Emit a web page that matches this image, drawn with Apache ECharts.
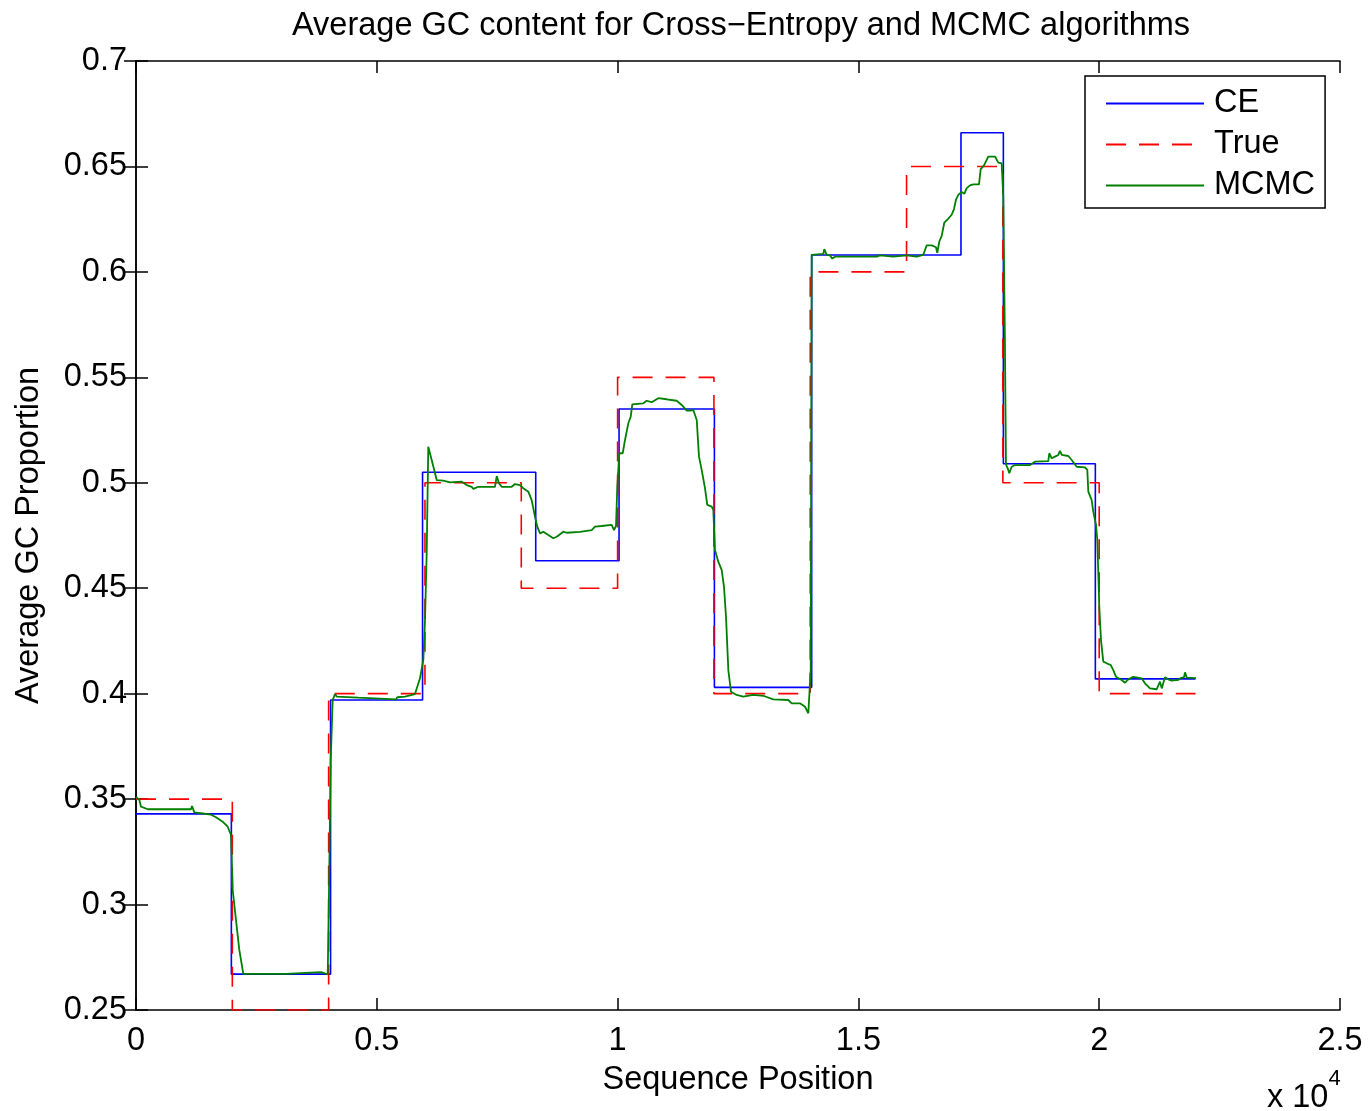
<!DOCTYPE html>
<html>
<head>
<meta charset="utf-8">
<script src="https://cdn.jsdelivr.net/npm/echarts@6/dist/echarts.min.js"></script>
<style>
  html, body { margin: 0; padding: 0; background: #fff; }
  #chart { width: 1369px; height: 1111px; }
</style>
</head>
<body>
<div id="chart"></div>
<script>
// True GC levels (piecewise constant)
var trueEdges = [0, 2000, 4000, 6000, 8000, 10000, 12000, 14000, 16000, 18000, 20000, 22000];
var trueLevels = [0.35, 0.25, 0.40, 0.50, 0.45, 0.55, 0.40, 0.60, 0.65, 0.50, 0.40];

// Cross-Entropy estimate
var ceEdges = [0, 1980, 4040, 5950, 8300, 10030, 12010, 14030, 17130, 18010, 19920, 22000];
var ceLevels = [0.343, 0.267, 0.397, 0.505, 0.463, 0.535, 0.403, 0.608, 0.666, 0.509, 0.407];

// MCMC estimate
var mcmcPos = [0, 69, 104, 243, 1142, 1163, 1211, 1350, 1557, 1661, 1800, 1904, 1973, 2008, 2076, 2145, 2228,
  3115, 3150, 3841, 3877, 3981, 4007, 4043, 4084, 4132, 4167, 4616, 4637, 5399, 5426, 5586, 5621, 5793, 5841,
  5897, 5966, 6001, 6036, 6069, 6140, 6173, 6244, 6381, 6520, 6763, 6867, 6970, 7004, 7108, 7454, 7490, 7537,
  7593, 7801, 7870, 7974, 8042, 8146, 8216, 8285, 8333, 8389, 8457, 8561, 8665, 8736, 8873, 8943, 9219, 9462,
  9531, 9670, 9703, 9877, 9925, 9967, 9994, 10035, 10106, 10154, 10222, 10272, 10305, 10534, 10604, 10708,
  10845, 11019, 11227, 11331, 11435, 11503, 11572, 11643, 11690, 11746, 11815, 11862, 11954, 11987, 12022,
  12091, 12162, 12209, 12251, 12299, 12355, 12473, 12610, 12818, 13025, 13233, 13545, 13615, 13787, 13891,
  13960, 13995, 14010, 14030, 14271, 14292, 14342, 14410, 14458, 14514, 15380, 15449, 15725, 16003, 16211,
  16348, 16418, 16522, 16611, 16638, 16680, 16730, 16784, 16867, 16937, 16985, 17027, 17074, 17145, 17199,
  17249, 17317, 17386, 17504, 17539, 17608, 17697, 17836, 17905, 17975, 18009, 18044, 18064, 18112, 18133,
  18183, 18251, 18563, 18667, 18943, 18964, 19014, 19082, 19151, 19186, 19221, 19358, 19429, 19533, 19705,
  19753, 19774, 19844, 19877, 19934, 19961, 20002, 20037, 20085, 20156, 20239, 20293, 20349, 20467, 20536,
  20604, 20708, 20882, 20951, 21055, 21194, 21262, 21298, 21366, 21435, 21505, 21642, 21692, 21761, 21782,
  21817, 22010];
var mcmcGC = [0.3511, 0.3496, 0.3464, 0.3452, 0.3452, 0.3467, 0.3437, 0.3433, 0.3426, 0.3414, 0.3393, 0.3369,
  0.3330, 0.3069, 0.2927, 0.2785, 0.2671, 0.2671, 0.2680, 0.2680, 0.2671, 0.2669, 0.3055, 0.3685, 0.3970,
  0.3998, 0.3986, 0.3981, 0.3973, 0.3973, 0.3983, 0.3986, 0.3995, 0.3998, 0.4033, 0.4073, 0.4160, 0.4349,
  0.4667, 0.5171, 0.5108, 0.5100, 0.5013, 0.5010, 0.5002, 0.5005, 0.4989, 0.4981, 0.4971, 0.4981, 0.4981,
  0.5032, 0.4998, 0.4981, 0.4981, 0.4994, 0.4989, 0.4974, 0.4958, 0.4918, 0.4839, 0.4792, 0.4760, 0.4768,
  0.4752, 0.4737, 0.4744, 0.4768, 0.4763, 0.4767, 0.4776, 0.4792, 0.4795, 0.4800, 0.4800, 0.4776, 0.4795,
  0.4981, 0.5140, 0.5140, 0.5203, 0.5282, 0.5313, 0.5372, 0.5377, 0.5389, 0.5382, 0.5401, 0.5396, 0.5389,
  0.5369, 0.5342, 0.5342, 0.5345, 0.5298, 0.5124, 0.5061, 0.4974, 0.4895, 0.4887, 0.4871, 0.4681, 0.4626,
  0.4586, 0.4507, 0.4365, 0.4112, 0.4009, 0.3994, 0.3986, 0.3994, 0.3990, 0.3973, 0.3970, 0.3954, 0.3954,
  0.3938, 0.3907, 0.3907, 0.4112, 0.6081, 0.6085, 0.6108, 0.6081, 0.6078, 0.6063, 0.6072, 0.6072, 0.6078,
  0.6072, 0.6078, 0.6072, 0.6081, 0.6126, 0.6126, 0.6117, 0.6090, 0.6144, 0.6171, 0.6234, 0.6253, 0.6271,
  0.6298, 0.6343, 0.6365, 0.6379, 0.6370, 0.6397, 0.6410, 0.6415, 0.6415, 0.6487, 0.6505, 0.6547, 0.6547,
  0.6518, 0.6514, 0.6352, 0.5630, 0.5087, 0.5061, 0.5045, 0.5076, 0.5084, 0.5084, 0.5100, 0.5103, 0.5140,
  0.5116, 0.5124, 0.5132, 0.5152, 0.5132, 0.5127, 0.5108, 0.5076, 0.5073, 0.5061, 0.4958, 0.4918, 0.4863,
  0.4800, 0.4729, 0.4412, 0.4254, 0.4152, 0.4144, 0.4136, 0.4112, 0.4080, 0.4065, 0.4052, 0.4068, 0.4080,
  0.4073, 0.4049, 0.4025, 0.4021, 0.4057, 0.4025, 0.4078, 0.4068, 0.4062, 0.4065, 0.4074, 0.4078, 0.4101,
  0.4076, 0.4074];

// step data: each level starts at its edge, last point closes the segment
function stepData(edges, levels) {
  var out = [];
  levels.forEach(function (v, i) { out.push([edges[i], v]); });
  out.push([edges[edges.length - 1], levels[levels.length - 1]]);
  return out;
}
var mcmcData = mcmcPos.map(function (x, i) { return [x, mcmcGC[i]]; });

var font = "'Liberation Sans', Arial, Helvetica, sans-serif";
var fs = 32.5;

var chart = echarts.init(document.getElementById('chart'));
var frameAxis = {
  axisLine: { show: true, lineStyle: { color: '#000', width: 1.5 } },
  axisTick: { show: true, inside: true, length: 12, lineStyle: { color: '#000', width: 1.5 } },
  splitLine: { show: false }
};

chart.setOption({
  backgroundColor: '#fff',
  animation: false,
  title: {
    text: 'Average GC content for Cross\u2212Entropy and MCMC algorithms',
    left: 287, top: 5,
    textStyle: { fontFamily: font, fontSize: fs, fontWeight: 'normal', color: '#000' }
  },
  grid: { left: 136, right: 29, top: 61, bottom: 101 },
  legend: {
    data: ['CE', 'True', 'MCMC'],
    orient: 'vertical',
    left: 1085, top: 76,
    padding: [11, 10, 6, 20],
    itemWidth: 98, itemHeight: 14, itemGap: 8,
    backgroundColor: '#fff',
    borderColor: '#000', borderWidth: 1.5, borderRadius: 0,
    itemStyle: { opacity: 0 },
    textStyle: { fontFamily: font, fontSize: fs, color: '#000', padding: [0, 0, 0, 5] }
  },
  xAxis: [
    Object.assign({
      type: 'value', min: 0, max: 25000, interval: 5000, position: 'bottom',
      name: 'Sequence Position', nameLocation: 'middle', nameGap: 54,
      nameTextStyle: { fontFamily: font, fontSize: fs, color: '#000' },
      axisLabel: {
        fontFamily: font, fontSize: fs, color: '#000', margin: 15,
        formatter: function (v) { return String(parseFloat((v / 10000).toFixed(2))); }
      }
    }, frameAxis),
    Object.assign({
      type: 'value', min: 0, max: 25000, interval: 5000, position: 'top',
      axisLabel: { show: false }
    }, frameAxis)
  ],
  yAxis: [
    Object.assign({
      type: 'value', min: 0.25, max: 0.7, interval: 0.05, position: 'left',
      name: 'Average GC Proportion', nameLocation: 'middle', nameGap: 90,
      nameTextStyle: { fontFamily: font, fontSize: fs, color: '#000' },
      axisLabel: {
        fontFamily: font, fontSize: fs, color: '#000', margin: 9,
        formatter: function (v) { return String(parseFloat(v.toFixed(2))); }
      }
    }, frameAxis),
    Object.assign({
      type: 'value', min: 0.25, max: 0.7, interval: 0.05, position: 'right',
      axisLabel: { show: false }
    }, frameAxis)
  ],
  graphic: [{
    type: 'text', left: 1267, top: 1068,
    style: {
      text: '{n|x 10}{s|4}',
      rich: {
        n: { fontFamily: font, fontSize: fs, fill: '#000', verticalAlign: 'bottom', padding: [14, 0, 0, 0] },
        s: { fontFamily: font, fontSize: 22, fill: '#000', verticalAlign: 'top' }
      }
    }
  }],
  series: [
    {
      name: 'CE', type: 'line', step: 'end', data: stepData(ceEdges, ceLevels),
      showSymbol: false, symbol: 'none', z: 2,
      lineStyle: { color: '#0000ff', width: 1.6 }, itemStyle: { color: '#0000ff' }
    },
    {
      name: 'True', type: 'line', step: 'end', data: stepData(trueEdges, trueLevels),
      showSymbol: false, symbol: 'none', z: 3,
      lineStyle: { color: '#ff0000', width: 1.6, type: [20, 13] }, itemStyle: { color: '#ff0000' }
    },
    {
      name: 'MCMC', type: 'line', data: mcmcData,
      showSymbol: false, symbol: 'none', z: 4,
      lineStyle: { color: '#008000', width: 1.8 }, itemStyle: { color: '#008000' }
    }
  ]
});
</script>
</body>
</html>
